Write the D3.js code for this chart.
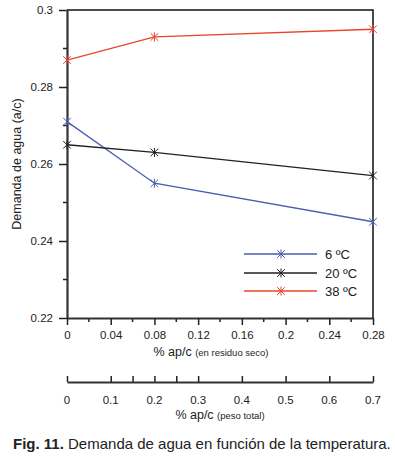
<!DOCTYPE html>
<html><head><meta charset="utf-8">
<script src="https://cdn.jsdelivr.net/npm/d3@7"></script>
<style>body{margin:0;background:#fff}svg{display:block;font-family:"Liberation Sans",Arial,sans-serif}</style>
</head><body><svg id="c" width="395" height="458"></svg>
<script>
const xValues = [0, 0.08, 0.28];
const seriesNames = ["6 ºC", "20 ºC", "38 ºC"];
const seriesColors = ["#4a5db0", "#222222", "#e8452c"];
const values6 = [0.271, 0.255, 0.245];
const values20 = [0.265, 0.263, 0.257];
const values38 = [0.287, 0.293, 0.295];
const yTicks = [0.22, 0.24, 0.26, 0.28, 0.3];
const xTicks = [0, 0.04, 0.08, 0.12, 0.16, 0.2, 0.24, 0.28];
const x2Ticks = [0, 0.1, 0.2, 0.3, 0.4, 0.5, 0.6, 0.7];
const x2Minor = [0.15, 0.25];

const svg = d3.select("#c");
const L = 67, R = 373, T = 10, B = 318;
const x = d3.scaleLinear().domain([0, 0.28]).range([L, R]);
const y = d3.scaleLinear().domain([0.22, 0.30]).range([B, T]);
const x2 = d3.scaleLinear().domain([0, 0.7]).range([L, R]);
const ink = "#222";

svg.append("path").attr("d", `M${L},${T}H${R}V${B}`).attr("fill","none").attr("stroke","#111").attr("stroke-width",1.5);

const yMinor = d3.range(0.23, 0.30, 0.02);
svg.selectAll(".ym").data(yMinor).join("line")
  .attr("x1", L-4).attr("x2", L).attr("y1", d=>y(d)).attr("y2", d=>y(d)).attr("stroke",ink).attr("stroke-width",1.5);
const ya = svg.append("g").attr("transform",`translate(${L},0)`)
  .call(d3.axisLeft(y).tickValues(yTicks).tickFormat(d=>String(+d.toFixed(2))).tickSize(8).tickSizeOuter(0));
ya.select(".domain").attr("stroke","#333").attr("stroke-width",2.2);
ya.selectAll(".tick line").attr("stroke",ink).attr("stroke-width",1.5);
ya.selectAll("text").attr("font-size",11.5).attr("fill",ink).attr("x",-14).attr("font-family","Liberation Sans, Arial");

const xMinorV = d3.range(0.02, 0.28, 0.04);
svg.selectAll(".xm").data(xMinorV).join("line")
  .attr("x1", d=>x(d)).attr("x2", d=>x(d)).attr("y1", B).attr("y2", B+4).attr("stroke",ink).attr("stroke-width",1.5);
const xa = svg.append("g").attr("transform",`translate(0,${B})`)
  .call(d3.axisBottom(x).tickValues(xTicks).tickFormat(d=>String(+d.toFixed(2))).tickSize(7).tickSizeOuter(0));
xa.select(".domain").attr("stroke","#333").attr("stroke-width",2.2);
xa.selectAll(".tick line").attr("stroke",ink).attr("stroke-width",1.5);
xa.selectAll("text").attr("font-size",11.5).attr("fill",ink).attr("y",13).attr("font-family","Liberation Sans, Arial");

const t1 = svg.append("text").attr("x",211).attr("y",356).attr("text-anchor","middle").attr("fill",ink);
t1.append("tspan").attr("font-size",12.5).text("% ap/c ");
t1.append("tspan").attr("font-size",9.5).text("(en residuo seco)");

const x2a = svg.append("g").attr("transform",`translate(0,382)`)
  .call(d3.axisTop(x2).tickValues(x2Ticks.concat(x2Minor)).tickFormat("").tickSize(6).tickSizeOuter(0));
x2a.select(".domain").attr("stroke","#333").attr("stroke-width",2);
x2a.selectAll(".tick line").attr("stroke",ink).attr("stroke-width",1.5);
svg.selectAll(".x2l").data(x2Ticks).join("text").attr("x",d=>x2(d)).attr("y",404)
  .attr("text-anchor","middle").attr("font-size",11.5).attr("fill",ink).text(d=>String(d));
const t2 = svg.append("text").attr("x",220).attr("y",419).attr("text-anchor","middle").attr("fill",ink);
t2.append("tspan").attr("font-size",12.5).text("% ap/c ");
t2.append("tspan").attr("font-size",9.5).text("(peso total)");

svg.append("text").attr("transform","translate(21,164) rotate(-90)").attr("text-anchor","middle")
  .attr("font-size",12.5).attr("fill",ink).text("Demanda de agua (a/c)");

const series = [values6, values20, values38];
const line = d3.line().x((d,i)=>x(xValues[i])).y(d=>y(d));
function star(g, cx, cy, color){
  const r=4.5, a=r*0.85;
  g.append("path").attr("d",`M${cx-a},${cy-a}L${cx+a},${cy+a}M${cx-a},${cy+a}L${cx+a},${cy-a}M${cx},${cy-r}V${cy+r}`)
   .attr("stroke",color).attr("stroke-width",1).attr("fill","none");
}
series.forEach((vals,k)=>{
  svg.append("path").attr("d",line(vals)).attr("fill","none").attr("stroke",seriesColors[k]).attr("stroke-width",1.3);
  const g = svg.append("g");
  vals.forEach((v,i)=>star(g, x(xValues[i]), y(v), seriesColors[k]));
});

const legY = [254, 273, 291];
seriesNames.forEach((n,k)=>{
  svg.append("line").attr("x1",244).attr("x2",317).attr("y1",legY[k]).attr("y2",legY[k]).attr("stroke",seriesColors[k]).attr("stroke-width",1.3);
  star(svg.append("g"), 281, legY[k], seriesColors[k]);
  svg.append("text").attr("x",325).attr("y",legY[k]+4.5).attr("font-size",13).attr("fill",ink).text(n);
});

const cap = svg.append("text").attr("x",13).attr("y",449).attr("font-size",15).attr("fill","#222");
cap.append("tspan").attr("font-weight","bold").text("Fig. 11.");
cap.append("tspan").text(" Demanda de agua en función de la temperatura.");
</script></body></html>
